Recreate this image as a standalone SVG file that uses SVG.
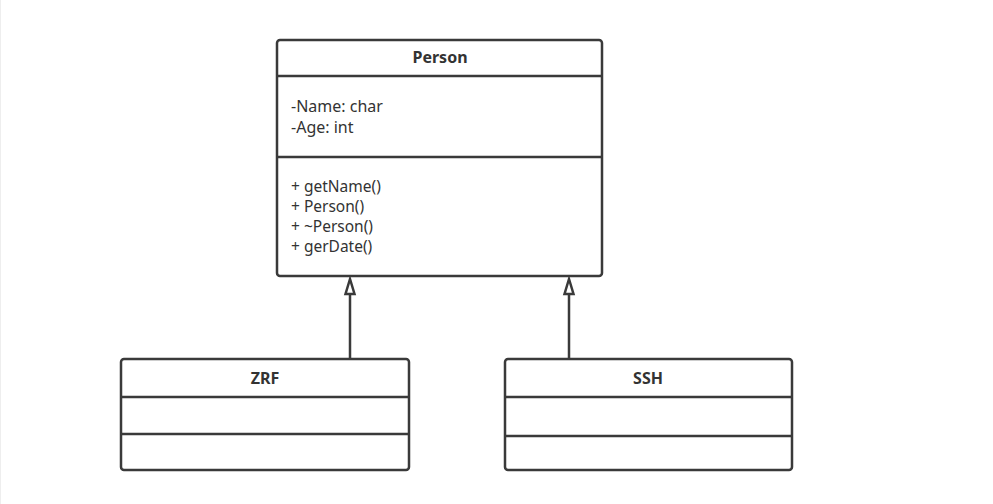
<svg xmlns="http://www.w3.org/2000/svg" width="993" height="504" viewBox="0 0 993 504">
<style>
.box{fill:#fff;stroke:#3a3a3a;stroke-width:2.5}
.div{stroke:#3a3a3a;stroke-width:2.5}
.t{font-family:"Noto Sans","Open Sans",sans-serif;font-size:15.5px;fill:#333}
.a{font-size:16px}
.b{font-weight:bold;text-anchor:middle;font-size:16px}
.c{stroke:#3a3a3a;stroke-width:2.5;fill:none}
.h{stroke:#3a3a3a;stroke-width:2.5;fill:#fff}
</style>
<rect x="0" y="0" width="993" height="504" fill="#fff"/>
<line x1="0.5" y1="0" x2="0.5" y2="504" stroke="#eeeeee" stroke-width="1"/>
<g id="Person">
<rect class="box" x="277" y="40" width="325" height="236" rx="3"/>
<line class="div" x1="277" y1="76" x2="602" y2="76"/>
<line class="div" x1="277" y1="157" x2="602" y2="157"/>
<text class="t b" x="440" y="63">Person</text>
<text class="t a" x="291" y="112">-Name: char</text>
<text class="t a" x="291" y="133">-Age: int</text>
<text class="t" x="291" y="192">+ getName()</text>
<text class="t" x="291" y="212">+ Person()</text>
<text class="t" x="291" y="232">+ ~Person()</text>
<text class="t" x="291" y="252">+ gerDate()</text>
</g>
<g id="ZRF">
<rect class="box" x="121" y="359" width="288" height="111" rx="3"/>
<line class="div" x1="121" y1="397" x2="409" y2="397"/>
<line class="div" x1="121" y1="434" x2="409" y2="434"/>
<text class="t b" x="265" y="384">ZRF</text>
</g>
<g id="SSH">
<rect class="box" x="505" y="359" width="287" height="111" rx="3"/>
<line class="div" x1="505" y1="397" x2="792" y2="397"/>
<line class="div" x1="505" y1="436" x2="792" y2="436"/>
<text class="t b" x="648" y="384">SSH</text>
</g>
<g id="connectors">
<line class="c" x1="350" y1="359" x2="350" y2="294"/>
<polygon class="h" points="350,279 345.5,294 354.5,294"/>
<line class="c" x1="569" y1="359" x2="569" y2="294"/>
<polygon class="h" points="569,279 564.5,294 573.5,294"/>
</g>
</svg>
